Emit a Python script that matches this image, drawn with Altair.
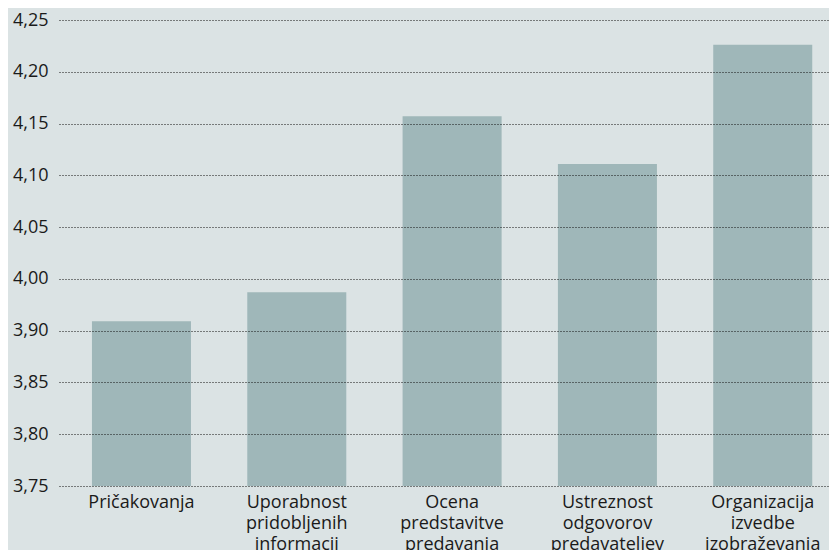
import altair as alt
import pandas as pd

categories = [
    "Pričakovanja",
    "Uporabnost pridobljenih informacij",
    "Ocena predstavitve predavanja",
    "Ustreznost odgovorov predavateljev",
    "Organizacija izvedbe izobraževanja",
]
values = [3.959, 3.987, 4.157, 4.111, 4.226]

tick_values = [3.80, 3.85, 3.90, 3.95, 4.00, 4.05, 4.10, 4.15, 4.20, 4.25]
tick_labels = ["3,75", "3,80", "3,85", "3,90", "4,00", "4,05", "4,10", "4,15", "4,20", "4,25"]

df = pd.DataFrame({"cat": categories, "val": values})

lab_arr = "[" + ",".join("'%s'" % t for t in tick_labels) + "]"
key_arr = "[" + ",".join(str(int(round(v * 100))) for v in tick_values) + "]"
y_label_expr = "%s[indexof(%s, round(datum.value*100))]" % (lab_arr, key_arr)

FONT = "Open Sans"
BG = "#dbe3e4"
BAR = "#9fb7b9"

chart = (
    alt.Chart(df)
    .mark_bar(color=BAR, clip=True)
    .encode(
        x=alt.X(
            "cat:N",
            sort=categories,
            title=None,
            scale=alt.Scale(paddingInner=0.3625, paddingOuter=0.16, align=0.663),
            axis=alt.Axis(
                labelAngle=0,
                ticks=False,
                domain=False,
                grid=False,
                labelPadding=7,
                labelBaseline="top",
                labelFontSize=18,
                labelLineHeight=21,
                labelColor="#1a1a1a",
                labelFont=FONT,
                labelExpr="split(datum.label, ' ')",
            ),
        ),
        y=alt.Y(
            "val:Q",
            title=None,
            scale=alt.Scale(domain=[3.80, 4.25], zero=False, nice=False),
            axis=alt.Axis(
                values=tick_values,
                labelExpr=y_label_expr,
                ticks=False,
                domain=False,
                grid=True,
                gridDash=[1, 2],
                gridColor="#111111",
                gridWidth=1,
                labelPadding=11,
                labelFontSize=18,
                labelColor="#1a1a1a",
                labelFont=FONT,
                zindex=1,
            ),
        ),
    )
    .properties(
        width=770,
        height=466,
        autosize=alt.AutoSizeParams(type="none"),
        padding={"left": 51, "top": 12, "right": 0, "bottom": 64},
        background=BG,
    )
    .configure_view(stroke=None)
)

chart.save("out.html", embed_options={"renderer": "svg", "actions": False})
